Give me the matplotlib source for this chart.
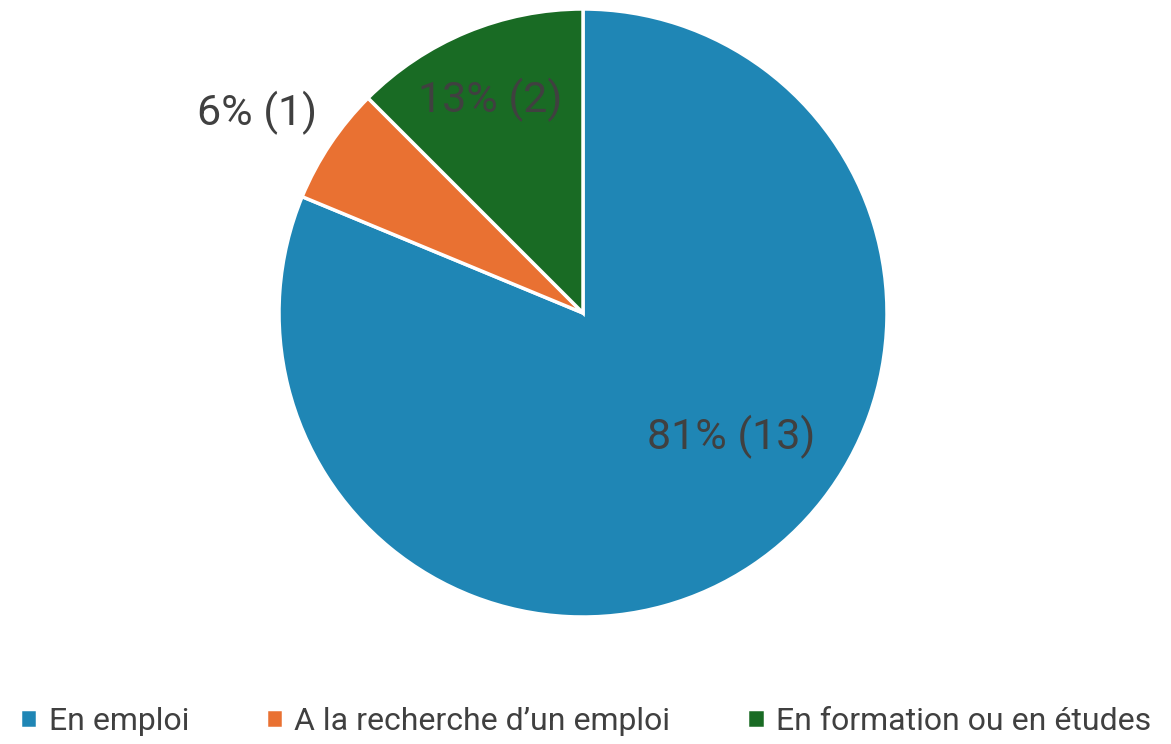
import numpy as np
import matplotlib.pyplot as plt

plt.rcParams['font.family'] = ['Roboto', 'DejaVu Sans']

# données
categories = ['En emploi', 'A la recherche d\u2019un emploi', 'En formation ou en études']
effectifs = [13, 1, 2]
couleurs = ['#1F86B5', '#E97132', '#196B24']

# position des étiquettes (angle en degrés, distance relative au rayon)
pos_labels = [(-40, 0.635), (148.5, 1.258), (113.6, 0.765)]

fig = plt.figure(figsize=(11.71, 7.44), dpi=100)
cx, cy, r = 583, 744 - 313, 304
ax = fig.add_axes([(cx - r) / 1171, (cy - r) / 744, 2 * r / 1171, 2 * r / 744])

wedges, _ = ax.pie(effectifs, colors=couleurs, startangle=90, counterclock=False,
                   radius=1, wedgeprops=dict(edgecolor='white', linewidth=2.5))
ax.set_xlim(-1, 1)
ax.set_ylim(-1, 1)
ax.set_aspect('equal')
ax.axis('off')

total = sum(effectifs)
for v, (ang, d) in zip(effectifs, pos_labels):
    a = np.deg2rad(ang)
    pct = int(100 * v / total + 0.5)
    ax.text(d * np.cos(a), d * np.sin(a), f'{pct}% ({v})',
            ha='center', va='center', fontsize=31, color='#404040', clip_on=False)

leg = fig.legend(wedges, categories, loc='center', bbox_to_anchor=(0.5, 1 - 721 / 744),
                 ncol=3, frameon=False, fontsize=23, handlelength=0.55, handleheight=0.55,
                 handletextpad=0.35, columnspacing=2.4, labelcolor='#404040')

fig.savefig('out.png', dpi=100)
